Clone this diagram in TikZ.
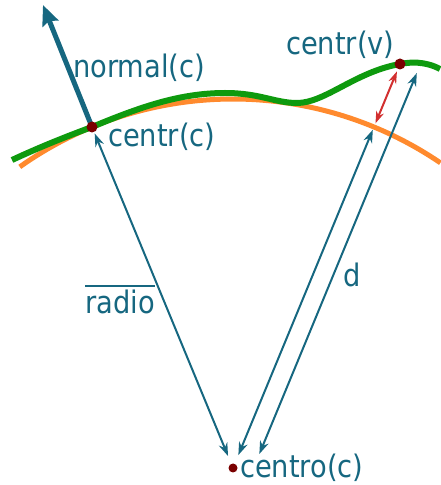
\documentclass[tikz,border=0pt]{standalone}
\usepackage{fontspec}
\setmainfont[FakeStretch=0.88]{DejaVu Sans}
\usepackage{xcolor}
\usepackage{tikz}
\usetikzlibrary{arrows.meta,calc}
\definecolor{tealblue}{HTML}{166780}
\definecolor{curvegreen}{HTML}{0E9A0E}
\definecolor{curveorange}{HTML}{FF8A2E}
\definecolor{gapred}{HTML}{D22F2F}
\definecolor{dotred}{HTML}{7A0000}
\tikzset{
  tag/.style={anchor=base west, inner sep=0pt, text=tealblue, font=\fontsize{31}{36}\selectfont},
  point/.style={circle, fill=dotred, inner sep=0pt, minimum size=11pt},
  radial/.style={{Stealth[length=13pt,width=9pt]}-{Stealth[length=13pt,width=9pt]}, line width=2pt, tealblue},
  gapflow/.style={{Stealth[length=12pt,width=8pt]}-{Stealth[length=12pt,width=8pt]}, line width=2pt, gapred},
  normalflow/.style={-{Stealth[length=20pt,width=17pt,inset=3pt]}, line width=5pt, tealblue},
  surface/.style={line width=6pt, curvegreen},
  sphere/.style={line width=5pt, curveorange}
}

\begin{document}
\begin{tikzpicture}[x=1pt,y=1pt]
  \useasboundingbox (0,0) rectangle (440,485);

  \coordinate (centroc) at (233,17);
  \coordinate (centrc) at (92,358);
  \coordinate (centrv) at (400,421);
  \coordinate (normtip) at (43,480);
  \coordinate (onsphere) at ($(centroc)!369pt!(centrv)$);
  \coordinate (dlow) at ($(centroc)!19pt!-90:(centrv)$);
  \coordinate (dhigh) at ($(centrv)!19pt!90:(centroc)$);

  % surfaces
  \draw[sphere] ($(centroc)+(125.3:369)$) arc[start angle=125.3, end angle=55.8, radius=369];
  \draw[surface] (12,325) .. controls (40,338) and (65,348) .. (centrc)
    .. controls (140,378) and (180,392) .. (225,392)
    .. controls (260,392) and (275,382) .. (297,382)
    .. controls (325,382) and (355,413) .. (centrv)
    .. controls (410,423) and (425,424) .. (440,416);

  \draw[normalflow] (centrc) -- (normtip);

  \draw[radial, shorten <=7pt, shorten >=13pt] (centrc) -- (centroc);
  \draw[radial, shorten <=3pt, shorten >=14pt] (onsphere) -- (centroc);
  \draw[radial, shorten <=2pt, shorten >=23pt] (dhigh) -- (dlow);
  \draw[gapflow, shorten <=4pt, shorten >=8pt] (onsphere) -- (centrv);

  \node[point] (dotc) at (centrc) {};
  \node[point] (dotv) at (centrv) {};
  \node[point, minimum size=9pt] (dotcentro) at (centroc) {};

  \node[tag] (lblnormal) at (73,407) {normal(c)};
  \node[tag] (lblcentrc) at (108,338) {centr(c)};
  \node[tag] (lblcentrv) at (286,430) {centr(v)};
  \node[tag] (lblcentro) at (240,8) {centro(c)};
  \node[tag] (lbld) at (343,198) {d};
  \node[tag] (lblradio) at (85,171) {radio};
  \draw[tealblue, line width=1.8pt] ([yshift=4pt]lblradio.north west) -- ([yshift=4pt]lblradio.north east);
\end{tikzpicture}
\end{document}
